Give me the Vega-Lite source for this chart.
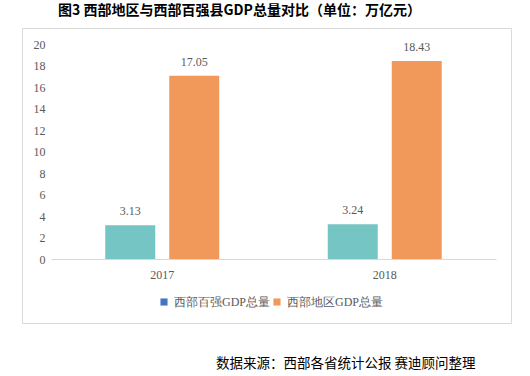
{
  "$schema": "https://vega.github.io/schema/vega-lite/v6.json",
  "autosize": {"type": "none"},
  "padding": {"left": 22, "top": 28, "right": 19, "bottom": 53},
  "width": 489,
  "height": 295,
  "title": {
    "text": "图3 西部地区与西部百强县GDP总量对比（单位：万亿元）",
    "font": "Noto Sans CJK SC",
    "fontSize": 14,
    "fontWeight": "bold",
    "color": "#000000",
    "anchor": "middle",
    "dx": -27,
    "offset": 10
  },
  "config": {
    "view": {"stroke": "#D9D9D9", "strokeWidth": 1},
    "font": "Liberation Serif"
  },
  "data": {
    "values": [
      {"year": "2017", "series": "西部百强GDP总量", "value": 3.13},
      {"year": "2017", "series": "西部地区GDP总量", "value": 17.05},
      {"year": "2018", "series": "西部百强GDP总量", "value": 3.24},
      {"year": "2018", "series": "西部地区GDP总量", "value": 18.43}
    ]
  },
  "encoding": {
    "x": {
      "field": "year",
      "type": "nominal",
      "scale": {"range": [29, 474], "paddingInner": 0, "paddingOuter": 0},
      "axis": {
        "orient": "bottom",
        "offset": -64,
        "labelAngle": 0,
        "ticks": false,
        "domainColor": "#D9D9D9",
        "labelFont": "Liberation Serif",
        "labelFontSize": 12,
        "labelColor": "#595959",
        "labelPadding": 10,
        "title": "数据来源：西部各省统计公报 赛迪顾问整理",
        "titleFont": "Noto Sans CJK SC",
        "titleFontSize": 13.5,
        "titleFontWeight": "normal",
        "titleColor": "#000000",
        "titleAnchor": null,
        "titleX": 453,
        "titleY": 104,
        "titleAlign": "right",
        "titleBaseline": "middle"
      }
    },
    "xOffset": {
      "field": "series",
      "type": "nominal",
      "sort": ["西部百强GDP总量", "西部地区GDP总量"],
      "scale": {"paddingInner": 0.219, "paddingOuter": 0.848}
    },
    "y": {
      "field": "value",
      "type": "quantitative",
      "scale": {"domain": [0, 20], "range": [231, 16], "nice": false},
      "axis": {
        "orient": "left",
        "offset": -30,
        "values": [0, 2, 4, 6, 8, 10, 12, 14, 16, 18, 20],
        "domain": false,
        "ticks": false,
        "grid": false,
        "labelPadding": 7,
        "labelFont": "Liberation Serif",
        "labelFontSize": 12,
        "labelColor": "#595959",
        "title": null
      }
    }
  },
  "layer": [
    {
      "mark": {"type": "bar"},
      "encoding": {
        "fill": {
          "field": "series",
          "type": "nominal",
          "scale": {"domain": ["西部地区GDP总量", "西部百强GDP总量"], "range": ["#F0995A", "#74C5C3"]},
          "legend": null
        }
      }
    },
    {
      "mark": {"type": "bar"},
      "encoding": {
        "y": {"datum": 0},
        "y2": {"datum": 0},
        "color": {
          "field": "series",
          "type": "nominal",
          "scale": {"domain": ["西部百强GDP总量", "西部地区GDP总量"], "range": ["#4472C4", "#F0995A"]},
          "legend": {
            "title": null,
            "orient": "none",
            "direction": "horizontal",
            "legendX": 136,
            "legendY": 268,
            "symbolType": "square",
            "symbolSize": 50,
            "symbolStrokeWidth": 0,
            "labelFont": "Liberation Serif",
            "labelFontSize": 12,
            "labelColor": "#595959",
            "columnPadding": 0
          }
        }
      }
    },
    {
      "mark": {"type": "text", "dy": -14, "font": "Liberation Serif", "fontSize": 12, "color": "#595959"},
      "encoding": {
        "text": {"field": "value", "type": "quantitative", "format": ".2f"}
      }
    }
  ]
}
